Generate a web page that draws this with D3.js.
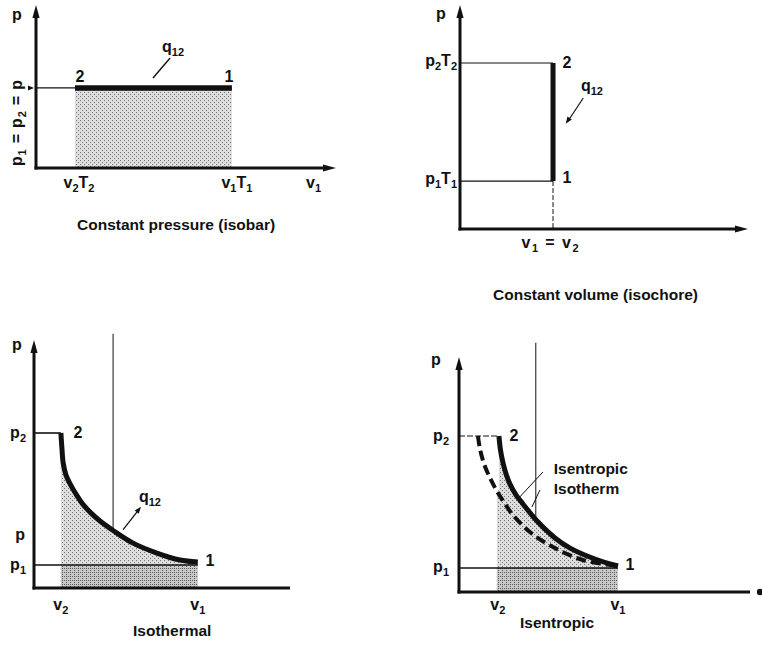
<!DOCTYPE html>
<html><head><meta charset="utf-8">
<script src="https://cdn.jsdelivr.net/npm/d3@7"></script>
<style>
body{margin:0;background:#fff}
svg{display:block}
text{font-family:"Liberation Sans",Arial,Helvetica,sans-serif;font-weight:bold;fill:#111}
</style>
</head><body><svg id="c" width="762" height="649"></svg>
<script>
// ---------- data (abstract v / p units) ----------
const isobarV = [1.3, 6.53];
const isobarP = [4.91, 4.91];
const isochoreV = [3.23, 3.23];
const isochoreP = [2.14, 7.41];
const isothermV = [1.05, 1.09, 1.14, 1.25, 1.41, 1.64, 1.93, 2.23, 2.58, 3.09, 3.87, 4.8, 5.7, 6.4];
const isothermP = [6.25, 5.65, 5.04, 4.55, 4.2, 3.79, 3.35, 3.02, 2.7, 2.32, 1.81, 1.41, 1.13, 1.05];
const isentropicV = [1.56, 1.62, 1.72, 1.84, 1.99, 2.23, 2.5, 3.05, 3.75, 4.34, 5.31, 6.21];
const isentropicP = [6.29, 5.73, 5.2, 4.76, 4.35, 3.91, 3.55, 2.86, 2.18, 1.77, 1.33, 1.05];
const refIsothermV = [0.74, 0.82, 0.98, 1.21, 1.48, 1.8, 2.11, 2.77, 3.67, 4.84, 6.21];
const refIsothermP = [6.29, 5.77, 5.16, 4.6, 4.07, 3.55, 3.1, 2.42, 1.81, 1.29, 1.05];
const isothermLevels = {p2: 6.25, p1: 0.93, p: 2.2, v2: 1.05, v1: 6.4, vMark: 3.09};
const isentropicLevels = {p2: 6.29, p1: 0.97, v2: 1.48, v1: 6.21, vMark: 3.0};
const titles = ["Constant pressure (isobar)", "Constant volume (isochore)", "Isothermal", "Isentropic"];
const isobarLabels = ["p", "p_{1} = p_{2} = p", "v_{2}T_{2}", "v_{1}T_{1}", "v_{1}", "q_{12}"];
const isochoreLabels = ["p", "p_{2}T_{2}", "p_{1}T_{1}", "v_{1} = v_{2}", "q_{12}"];
const isothermLabels = ["p", "p_{2}", "p", "p_{1}", "v_{2}", "v_{1}", "q_{12}"];
const isentropicLabels = ["p", "p_{2}", "p_{1}", "v_{2}", "v_{1}", "Isentropic", "Isotherm"];
const pointLabels = ["1", "2"];

const svg = d3.select("#c");
const defs = svg.append("defs");
function stipple(id, bg, dot, n) {
  const pt = defs.append("pattern").attr("id", id).attr("width", 4).attr("height", 4)
    .attr("patternUnits", "userSpaceOnUse");
  pt.append("rect").attr("width", 4).attr("height", 4).attr("fill", bg);
  const spots = [[0,0],[2,2],[2,0],[0,2],[1,3]];
  spots.slice(0, n).forEach(s => pt.append("rect").attr("x", s[0]).attr("y", s[1])
    .attr("width", 1).attr("height", 1).attr("fill", dot));
}
stipple("light", "#dedede", "#707070", 2);
stipple("dense", "#c8c8c8", "#5a5a5a", 3);

function rich(g, str, x, y, opt = {}) {
  const size = opt.size || 16, sub = Math.round(size * 0.68);
  const t = g.append("text").attr("x", x).attr("y", y)
    .attr("text-anchor", opt.anchor || "start").style("font-size", size + "px");
  if (opt.transform) t.attr("transform", opt.transform);
  if (opt.len) t.attr("textLength", opt.len).attr("lengthAdjust", "spacing");
  let low = false;
  str.split(/(_\{[^}]*\})/).forEach(p => {
    if (!p) return;
    if (p.startsWith("_{")) {
      t.append("tspan").attr("dy", low ? 0 : 4).style("font-size", sub + "px").text(p.slice(2, -1));
      low = true;
    } else {
      t.append("tspan").attr("dy", low ? -4 : 0).text(p);
      low = false;
    }
  });
  return t;
}
function line(g, x1, y1, x2, y2, w, dash) {
  const l = g.append("line").attr("x1", x1).attr("y1", y1).attr("x2", x2).attr("y2", y2)
    .attr("stroke", "#111").attr("stroke-width", w);
  if (dash) l.attr("stroke-dasharray", dash);
  return l;
}
function head(g, x1, y1, x2, y2, len, hw) {
  const a = Math.atan2(y2 - y1, x2 - x1), c = Math.cos(a), s = Math.sin(a);
  const bx = x2 - c * len, by = y2 - s * len;
  g.append("path").attr("d", `M${x2},${y2}L${bx - s * hw},${by + c * hw}L${bx + s * hw},${by - c * hw}Z`)
    .attr("fill", "#111");
}
function axes(g, x, y, xEnd, yEnd, xHead) {
  line(g, x(0), y(0) + 1.5, x(0), y(yEnd) + 10, 3);
  head(g, x(0), y(0), x(0), y(yEnd), 13, 3.6);
  line(g, x(0) - 1.5, y(0), x(xEnd) - (xHead ? 10 : 0), y(0), 3);
  if (xHead === "arrow") head(g, x(0), y(0), x(xEnd), y(0), 13, 3.6);
  if (xHead === "dot") g.append("circle").attr("cx", x(xEnd)).attr("cy", y(0)).attr("r", 3.2).attr("fill", "#111");
}
const zip = (vs, ps) => vs.map((v, i) => ({v, p: ps[i]}));
const smooth = d3.curveCatmullRom.alpha(0.5);

// ---------- Panel 1: isobar ----------
{
  const g = svg.append("g");
  const x = d3.scaleLinear([0, 10], [36, 336]);
  const y = d3.scaleLinear([0, 10], [168, 5]);
  const d = zip(isobarV, isobarP);
  g.append("rect").attr("x", x(isobarV[0])).attr("y", y(isobarP[0]))
    .attr("width", x(isobarV[1]) - x(isobarV[0])).attr("height", y(0) - y(isobarP[0]))
    .attr("fill", "url(#light)");
  axes(g, x, y, 10, 10, "arrow");
  line(g, x(0), y(isobarP[0]), x(isobarV[0]), y(isobarP[0]), 1.2);
  head(g, x(0) - 10, y(isobarP[0]), x(0) - 2, y(isobarP[0]), 6, 2.5);
  g.append("path").datum(d).attr("fill", "none").attr("stroke", "#111").attr("stroke-width", 5.5)
    .attr("d", d3.line().x(e => x(e.v)).y(e => y(e.p)));
  line(g, x(4.47), y(6.75), x(3.9), y(5.52), 1.4);
  rich(g, isobarLabels[0], x(0) - 19, y(10) + 15, {anchor: "middle"});
  rich(g, isobarLabels[1], 0, 0, {transform: `translate(${x(0) - 14},${y(0) - 2}) rotate(-90)`, len: 86});
  rich(g, isobarLabels[2], x(isobarV[0]) + 4, y(0) + 20, {anchor: "middle"});
  rich(g, isobarLabels[3], x(isobarV[1]) + 5, y(0) + 20, {anchor: "middle"});
  rich(g, isobarLabels[4], x(9.25), y(0) + 20, {anchor: "middle"});
  rich(g, isobarLabels[5], x(4.2), y(7.1));
  rich(g, pointLabels[1], x(isobarV[0]) + 5, y(isobarP[0]) - 6, {anchor: "middle"});
  rich(g, pointLabels[0], x(isobarV[1]) - 3, y(isobarP[0]) - 6, {anchor: "middle"});
  rich(g, titles[0], 77, 230, {size: 15.5});
}

// ---------- Panel 2: isochore ----------
{
  const g = svg.append("g");
  const x = d3.scaleLinear([0, 10], [460, 748]);
  const y = d3.scaleLinear([0, 10], [229, 5]);
  const v = isochoreV[0];
  axes(g, x, y, 10, 10, "arrow");
  line(g, x(0), y(isochoreP[1]), x(v), y(isochoreP[1]), 1.2);
  line(g, x(0), y(isochoreP[0]), x(v), y(isochoreP[0]), 1.2);
  line(g, x(v), y(isochoreP[0]), x(v), y(0), 1, "5,2");
  g.append("path").datum(zip(isochoreV, isochoreP)).attr("fill", "none").attr("stroke", "#111")
    .attr("stroke-width", 5).attr("d", d3.line().x(e => x(e.v)).y(e => y(e.p)));
  line(g, x(4.28), y(5.85), x(3.74), y(4.8), 1.2);
  head(g, x(4.28), y(5.85), x(3.67), y(4.7), 7, 2.6);
  rich(g, isochoreLabels[0], x(0) - 19, y(10) + 14, {anchor: "middle"});
  rich(g, isochoreLabels[1], x(0) - 3, y(isochoreP[1]) + 3, {anchor: "end"});
  rich(g, isochoreLabels[2], x(0) - 3, y(isochoreP[0]) + 3, {anchor: "end"});
  rich(g, isochoreLabels[3], x(v) - 3, y(0) + 19, {anchor: "middle", len: 57});
  rich(g, isochoreLabels[4], x(4.2), y(6.15));
  rich(g, pointLabels[1], x(v) + 14, y(isochoreP[1]) + 5, {anchor: "middle"});
  rich(g, pointLabels[0], x(v) + 14, y(isochoreP[0]) + 2, {anchor: "middle"});
  rich(g, titles[1], 493, 300, {size: 15.5});
}

// ---------- Panel 3: isothermal ----------
{
  const g = svg.append("g");
  const x = d3.scaleLinear([0, 10], [34, 290]);
  const y = d3.scaleLinear([0, 10], [588, 340]);
  const L = isothermLevels;
  const d = zip(isothermV, isothermP);
  g.append("path").datum(d).attr("fill", "url(#light)")
    .attr("d", d3.area().x(e => x(e.v)).y0(y(0)).y1(e => y(e.p)).curve(smooth));
  g.append("rect").attr("x", x(L.v2)).attr("y", y(L.p1)).attr("width", x(L.v1) - x(L.v2))
    .attr("height", y(0) - y(L.p1)).attr("fill", "url(#dense)");
  axes(g, x, y, 10, 10, null);
  line(g, x(0), y(L.p2), x(L.v2), y(L.p2), 1.6);
  line(g, x(0), y(L.p1), x(L.v1), y(L.p1), 1.5);
  line(g, x(L.vMark), y(10.25), x(L.vMark), y(2.3), 1);
  g.append("path").datum(d).attr("fill", "none").attr("stroke", "#111").attr("stroke-width", 5)
    .attr("d", d3.line().x(e => x(e.v)).y(e => y(e.p)).curve(smooth));
  line(g, x(3.48), y(2.35), x(4.05), y(3.1), 1.3);
  head(g, x(3.48), y(2.35), x(4.18), y(3.28), 7, 2.6);
  rich(g, isothermLabels[0], x(0) - 17, y(10) + 10, {anchor: "middle"});
  rich(g, isothermLabels[1], x(0) - 8, y(L.p2) + 5, {anchor: "end"});
  rich(g, isothermLabels[2], x(0) - 9, y(L.p) + 7, {anchor: "end"});
  rich(g, isothermLabels[3], x(0) - 8, y(L.p1) + 5, {anchor: "end"});
  rich(g, isothermLabels[4], x(L.v2), y(0) + 22, {anchor: "middle"});
  rich(g, isothermLabels[5], x(L.v1), y(0) + 22, {anchor: "middle"});
  rich(g, isothermLabels[6], x(4.1), y(3.45));
  rich(g, pointLabels[1], x(L.v2) + 17, y(L.p2) + 5, {anchor: "middle"});
  rich(g, pointLabels[0], x(L.v1) + 12, y(isothermP[isothermP.length - 1]) + 4, {anchor: "middle"});
  rich(g, titles[2], 133, 636, {size: 15.5});
}

// ---------- Panel 4: isentropic ----------
{
  const g = svg.append("g");
  const x = d3.scaleLinear([0, 10], [459, 715]);
  const y = d3.scaleLinear([0, 10], [592, 344]);
  const L = isentropicLevels;
  const d = zip(isentropicV, isentropicP);
  const r = zip(refIsothermV, refIsothermP);
  g.append("path").datum(d).attr("fill", "url(#light)")
    .attr("d", d3.area().x(e => x(e.v)).y0(y(0)).y1(e => y(e.p)).curve(smooth));
  g.append("rect").attr("x", x(L.v2)).attr("y", y(4.1)).attr("width", x(isentropicV[0]) - x(L.v2) + 1)
    .attr("height", y(0) - y(4.1)).attr("fill", "url(#light)");
  g.append("rect").attr("x", x(L.v2)).attr("y", y(L.p1)).attr("width", x(L.v1) - x(L.v2))
    .attr("height", y(0) - y(L.p1)).attr("fill", "url(#dense)");
  axes(g, x, y, 11.76, 9.48, "dot");
  line(g, x(0), y(L.p2), x(isentropicV[0]), y(L.p2), 1.2, "6,2");
  line(g, x(0), y(L.p1), x(L.v1), y(L.p1), 1.5);
  line(g, x(L.vMark), y(10.05), x(L.vMark), y(2.9), 1);
  g.append("path").datum(r).attr("fill", "none").attr("stroke", "#111").attr("stroke-width", 4)
    .attr("stroke-dasharray", "10,5").attr("d", d3.line().x(e => x(e.v)).y(e => y(e.p)).curve(smooth));
  g.append("path").datum(d).attr("fill", "none").attr("stroke", "#111").attr("stroke-width", 5)
    .attr("d", d3.line().x(e => x(e.v)).y(e => y(e.p)).curve(smooth));
  line(g, x(3.28), y(4.84), x(2.3), y(3.75), 1);
  line(g, x(3.16), y(4.11), x(2.85), y(3.43), 1);
  rich(g, isentropicLabels[0], x(0) - 23, y(9.48) + 8, {anchor: "middle"});
  rich(g, isentropicLabels[1], x(0) - 10, y(L.p2) + 5, {anchor: "end"});
  rich(g, isentropicLabels[2], x(0) - 10, y(L.p1) + 4, {anchor: "end"});
  rich(g, isentropicLabels[3], x(L.v2) + 1, y(0) + 18, {anchor: "middle"});
  rich(g, isentropicLabels[4], x(L.v1), y(0) + 18, {anchor: "middle"});
  rich(g, isentropicLabels[5], x(3.7), y(4.84) + 2, {size: 15.5});
  rich(g, isentropicLabels[6], x(3.7), y(4.03) + 2, {size: 15.5});
  rich(g, pointLabels[1], x(isentropicV[0]) + 15, y(L.p2) + 5, {anchor: "middle"});
  rich(g, pointLabels[0], x(L.v1) + 12, y(isentropicP[isentropicP.length - 1]) + 4, {anchor: "middle"});
  rich(g, titles[3], 520, 628, {size: 15.5});
}
</script>
</body></html>
